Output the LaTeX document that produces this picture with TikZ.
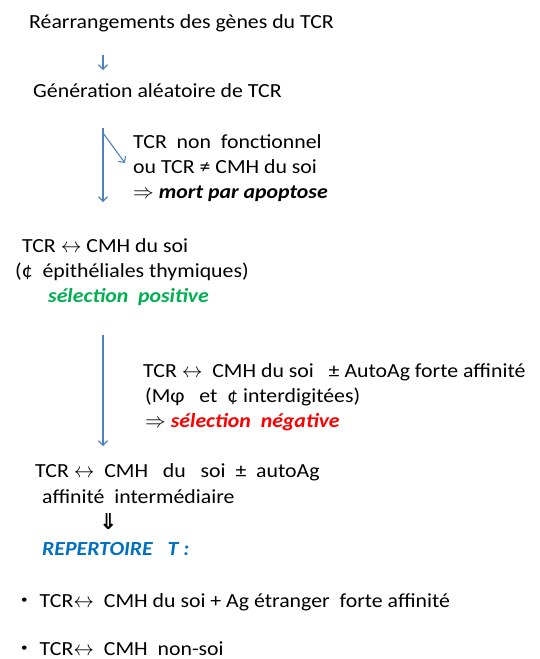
\documentclass[tikz,border=0pt]{standalone}
\usepackage{fontspec}
\setmainfont{Carlito}[FakeStretch=1.09]
\newfontfamily\symbfont{DejaVu Sans}
\usetikzlibrary{arrows.meta,calc}

\definecolor{flecheblue}{HTML}{4F81BD}
\definecolor{repblue}{HTML}{0070C0}
\definecolor{posgreen}{HTML}{00B050}
\definecolor{negred}{HTML}{FF0000}

\tikzset{
  txt/.style={anchor=base west, inner sep=0pt, font=\fontsize{20}{22}\selectfont},
  fleche/.style={draw=flecheblue, line width=1.1pt, -{Straight Barb[length=4.5pt,width=9pt]}},
}
\newcommand{\lr}{$\leftrightarrow$}
\newcommand{\puce}{\raisebox{4pt}{\fontsize{12}{12}\selectfont•}}

\begin{document}
\begin{tikzpicture}[x=1pt, y=-1pt]
    \useasboundingbox (0,0) rectangle (539,659);

    \node (rearr) [txt] at (29,28) {Réarrangements des gènes du TCR};
    \node (gen) [txt] at (33,97) {Génération aléatoire de TCR};

    \node (nonfonc) [txt] at (133,148) {TCR\ \ non\ \ fonctionnel};
    \node (diff) [txt] at (133,173) {ou TCR ≠ CMH du soi};
    \node (mort) [txt] at (133,198) {$\Rightarrow$ \textbf{\textit{mort par apoptose}}};

    \node (recsoi) [txt] at (22,252) {TCR \lr\ CMH du soi};
    \node (epith) [txt] at (15,277) {(¢\ \ épithéliales thymiques)};
    \node (selpos) [txt, text=posgreen] at (48,302) {\textbf{\textit{sélection\ \ positive}}};

    \node (autoag) [txt] at (143,377) {TCR\ \lr\ \ CMH\ du\ soi\ \ \ ±\ AutoAg\ forte\ affinité};
    \node (mphi) [txt] at (145,402) {(Mφ\ \ \ et\ \ ¢ interdigitées)};
    \node (selneg) [txt] at (145,427) {$\Rightarrow$\ \textcolor{negred}{\textbf{\textit{sélection\ \ négative}}}};

    \node (interm) [txt] at (35,477) {TCR\ \lr\ \ CMH\ \ \ du\ \ \ soi\ \ ±\ \ autoAg};
    \node (affin) [txt] at (42,503) {affinité\ \ intermédiaire};
    \node (implique) [txt, font=\symbfont\bfseries\fontsize{22}{22}\selectfont] at (99,529) {⇓};
    \node (repert) [txt, text=repblue] at (42,555) {\textbf{\textit{REPERTOIRE\ \ \ T :}}};

    \node (etranger) [txt] at (21,607) {\puce\hspace{12pt}TCR\lr\ \ CMH du soi + Ag étranger\ \ forte affinité};
    \node (nonsoi) [txt] at (21,655) {\puce\hspace{12pt}TCR\lr\ \ CMH\ \ non-soi};

    % fleches bleues
    \draw[fleche] (rearr.base west) ++(74,27) -- ++(0,15);
    \draw[fleche] (gen.base west) ++(70,31) -- ++(0,74);
    \draw[fleche] (gen.base west) ++(70,36) -- ($(diff.base west)+(-8,-10)$);
    \draw[fleche] (selpos.base west) ++(55,33) -- ++(0,111);
\end{tikzpicture}
\end{document}
